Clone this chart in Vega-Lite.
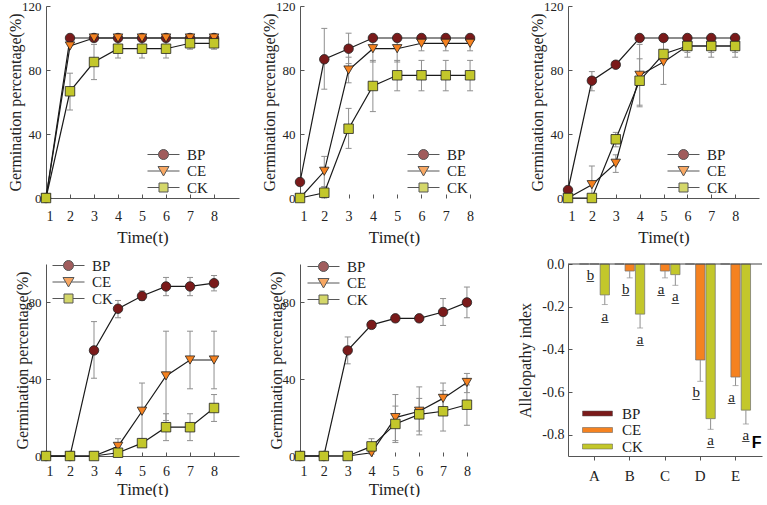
{
  "$schema": "https://vega.github.io/schema/vega-lite/v6.json",
  "padding": {"left": 7, "top": 0, "right": 0, "bottom": 0},
  "background": "white",
  "datasets": {
    "germ": [
      {"panel": "A", "g": "BP", "t": 1, "m": 0}, {"panel": "A", "g": "BP", "t": 2, "m": 100}, {"panel": "A", "g": "BP", "t": 3, "m": 100}, {"panel": "A", "g": "BP", "t": 4, "m": 100},
      {"panel": "A", "g": "BP", "t": 5, "m": 100}, {"panel": "A", "g": "BP", "t": 6, "m": 100}, {"panel": "A", "g": "BP", "t": 7, "m": 100}, {"panel": "A", "g": "BP", "t": 8, "m": 100},
      {"panel": "A", "g": "CE", "t": 1, "m": 0}, {"panel": "A", "g": "CE", "t": 2, "m": 95}, {"panel": "A", "g": "CE", "t": 3, "m": 100}, {"panel": "A", "g": "CE", "t": 4, "m": 100},
      {"panel": "A", "g": "CE", "t": 5, "m": 100}, {"panel": "A", "g": "CE", "t": 6, "m": 100}, {"panel": "A", "g": "CE", "t": 7, "m": 100}, {"panel": "A", "g": "CE", "t": 8, "m": 100},
      {"panel": "A", "g": "CK", "t": 1, "m": 0}, {"panel": "A", "g": "CK", "t": 2, "m": 66.7, "lo": 55, "hi": 78}, {"panel": "A", "g": "CK", "t": 3, "m": 85, "lo": 74, "hi": 96}, {"panel": "A", "g": "CK", "t": 4, "m": 93.3, "lo": 87.5, "hi": 99},
      {"panel": "A", "g": "CK", "t": 5, "m": 93.3, "lo": 87.5, "hi": 99}, {"panel": "A", "g": "CK", "t": 6, "m": 93.3, "lo": 87.5, "hi": 99}, {"panel": "A", "g": "CK", "t": 7, "m": 96.7, "lo": 93, "hi": 100}, {"panel": "A", "g": "CK", "t": 8, "m": 96.7, "lo": 93, "hi": 100},

      {"panel": "B", "g": "BP", "t": 1, "m": 10}, {"panel": "B", "g": "BP", "t": 2, "m": 86.7, "lo": 68, "hi": 106}, {"panel": "B", "g": "BP", "t": 3, "m": 93.3, "lo": 84, "hi": 103}, {"panel": "B", "g": "BP", "t": 4, "m": 100},
      {"panel": "B", "g": "BP", "t": 5, "m": 100}, {"panel": "B", "g": "BP", "t": 6, "m": 100}, {"panel": "B", "g": "BP", "t": 7, "m": 100}, {"panel": "B", "g": "BP", "t": 8, "m": 100},
      {"panel": "B", "g": "CE", "t": 1, "m": 0}, {"panel": "B", "g": "CE", "t": 2, "m": 16.7, "lo": 7, "hi": 26}, {"panel": "B", "g": "CE", "t": 3, "m": 80, "lo": 72, "hi": 88}, {"panel": "B", "g": "CE", "t": 4, "m": 93.3, "lo": 85, "hi": 100},
      {"panel": "B", "g": "CE", "t": 5, "m": 93.3, "lo": 85, "hi": 100}, {"panel": "B", "g": "CE", "t": 6, "m": 96.7, "lo": 92, "hi": 101}, {"panel": "B", "g": "CE", "t": 7, "m": 96.7, "lo": 92, "hi": 101}, {"panel": "B", "g": "CE", "t": 8, "m": 96.7, "lo": 92, "hi": 101},
      {"panel": "B", "g": "CK", "t": 1, "m": 0}, {"panel": "B", "g": "CK", "t": 2, "m": 3.3, "lo": 0, "hi": 7}, {"panel": "B", "g": "CK", "t": 3, "m": 43.3, "lo": 31, "hi": 56}, {"panel": "B", "g": "CK", "t": 4, "m": 70, "lo": 54, "hi": 86},
      {"panel": "B", "g": "CK", "t": 5, "m": 76.7, "lo": 67, "hi": 86}, {"panel": "B", "g": "CK", "t": 6, "m": 76.7, "lo": 67, "hi": 86}, {"panel": "B", "g": "CK", "t": 7, "m": 76.7, "lo": 67, "hi": 86}, {"panel": "B", "g": "CK", "t": 8, "m": 76.7, "lo": 67, "hi": 86},

      {"panel": "C", "g": "BP", "t": 1, "m": 5}, {"panel": "C", "g": "BP", "t": 2, "m": 73.3, "lo": 67, "hi": 79}, {"panel": "C", "g": "BP", "t": 3, "m": 83.3}, {"panel": "C", "g": "BP", "t": 4, "m": 100},
      {"panel": "C", "g": "BP", "t": 5, "m": 100}, {"panel": "C", "g": "BP", "t": 6, "m": 100}, {"panel": "C", "g": "BP", "t": 7, "m": 100}, {"panel": "C", "g": "BP", "t": 8, "m": 100},
      {"panel": "C", "g": "CE", "t": 1, "m": 0}, {"panel": "C", "g": "CE", "t": 2, "m": 8.3, "lo": 0, "hi": 20}, {"panel": "C", "g": "CE", "t": 3, "m": 21.7, "lo": 16, "hi": 27}, {"panel": "C", "g": "CE", "t": 4, "m": 76.7, "lo": 57, "hi": 96},
      {"panel": "C", "g": "CE", "t": 5, "m": 85, "lo": 71, "hi": 99}, {"panel": "C", "g": "CE", "t": 6, "m": 95, "lo": 88, "hi": 100}, {"panel": "C", "g": "CE", "t": 7, "m": 95, "lo": 88, "hi": 100}, {"panel": "C", "g": "CE", "t": 8, "m": 95, "lo": 88, "hi": 100},
      {"panel": "C", "g": "CK", "t": 1, "m": 0}, {"panel": "C", "g": "CK", "t": 2, "m": 0}, {"panel": "C", "g": "CK", "t": 3, "m": 36.7, "lo": 32, "hi": 41}, {"panel": "C", "g": "CK", "t": 4, "m": 73.3, "lo": 58, "hi": 87},
      {"panel": "C", "g": "CK", "t": 5, "m": 90}, {"panel": "C", "g": "CK", "t": 6, "m": 95, "lo": 91, "hi": 99}, {"panel": "C", "g": "CK", "t": 7, "m": 95, "lo": 91, "hi": 99}, {"panel": "C", "g": "CK", "t": 8, "m": 95, "lo": 91, "hi": 99},

      {"panel": "D", "g": "BP", "t": 1, "m": 0}, {"panel": "D", "g": "BP", "t": 2, "m": 0}, {"panel": "D", "g": "BP", "t": 3, "m": 55, "lo": 40.5, "hi": 70}, {"panel": "D", "g": "BP", "t": 4, "m": 76.7, "lo": 72, "hi": 81},
      {"panel": "D", "g": "BP", "t": 5, "m": 83.3, "lo": 81, "hi": 86}, {"panel": "D", "g": "BP", "t": 6, "m": 88.3, "lo": 83.5, "hi": 93}, {"panel": "D", "g": "BP", "t": 7, "m": 88.3, "lo": 83.5, "hi": 93}, {"panel": "D", "g": "BP", "t": 8, "m": 90, "lo": 86, "hi": 94},
      {"panel": "D", "g": "CE", "t": 1, "m": 0}, {"panel": "D", "g": "CE", "t": 2, "m": 0}, {"panel": "D", "g": "CE", "t": 3, "m": 0}, {"panel": "D", "g": "CE", "t": 4, "m": 5, "lo": 1, "hi": 9},
      {"panel": "D", "g": "CE", "t": 5, "m": 23.3, "lo": 9, "hi": 38}, {"panel": "D", "g": "CE", "t": 6, "m": 41.7, "lo": 18.5, "hi": 65}, {"panel": "D", "g": "CE", "t": 7, "m": 50, "lo": 35, "hi": 65}, {"panel": "D", "g": "CE", "t": 8, "m": 50, "lo": 35, "hi": 65},
      {"panel": "D", "g": "CK", "t": 1, "m": 0}, {"panel": "D", "g": "CK", "t": 2, "m": 0}, {"panel": "D", "g": "CK", "t": 3, "m": 0}, {"panel": "D", "g": "CK", "t": 4, "m": 1.7},
      {"panel": "D", "g": "CK", "t": 5, "m": 6.7, "lo": 5.5, "hi": 8}, {"panel": "D", "g": "CK", "t": 6, "m": 15, "lo": 8, "hi": 22}, {"panel": "D", "g": "CK", "t": 7, "m": 15, "lo": 8, "hi": 22}, {"panel": "D", "g": "CK", "t": 8, "m": 25, "lo": 18, "hi": 32},

      {"panel": "E", "g": "BP", "t": 1, "m": 0}, {"panel": "E", "g": "BP", "t": 2, "m": 0}, {"panel": "E", "g": "BP", "t": 3, "m": 55, "lo": 48, "hi": 62}, {"panel": "E", "g": "BP", "t": 4, "m": 68.3},
      {"panel": "E", "g": "BP", "t": 5, "m": 71.7, "lo": 70, "hi": 73}, {"panel": "E", "g": "BP", "t": 6, "m": 71.7, "lo": 70, "hi": 73}, {"panel": "E", "g": "BP", "t": 7, "m": 75, "lo": 68, "hi": 82}, {"panel": "E", "g": "BP", "t": 8, "m": 80, "lo": 72, "hi": 88},
      {"panel": "E", "g": "CE", "t": 1, "m": 0}, {"panel": "E", "g": "CE", "t": 2, "m": 0}, {"panel": "E", "g": "CE", "t": 3, "m": 0}, {"panel": "E", "g": "CE", "t": 4, "m": 1.7},
      {"panel": "E", "g": "CE", "t": 5, "m": 20, "lo": 8, "hi": 32}, {"panel": "E", "g": "CE", "t": 6, "m": 23.3, "lo": 11, "hi": 36}, {"panel": "E", "g": "CE", "t": 7, "m": 30, "lo": 22, "hi": 38}, {"panel": "E", "g": "CE", "t": 8, "m": 38.3, "lo": 33, "hi": 43},
      {"panel": "E", "g": "CK", "t": 1, "m": 0}, {"panel": "E", "g": "CK", "t": 2, "m": 0}, {"panel": "E", "g": "CK", "t": 3, "m": 0}, {"panel": "E", "g": "CK", "t": 4, "m": 5, "lo": 1, "hi": 9},
      {"panel": "E", "g": "CK", "t": 5, "m": 16.7, "lo": 7, "hi": 26}, {"panel": "E", "g": "CK", "t": 6, "m": 21.7, "lo": 13, "hi": 30}, {"panel": "E", "g": "CK", "t": 7, "m": 23.3, "lo": 13, "hi": 34}, {"panel": "E", "g": "CK", "t": 8, "m": 26.7, "lo": 16, "hi": 37}
    ],
    "alle": [
      {"cat": "A", "g": "BP", "v": 0}, {"cat": "A", "g": "CE", "v": 0, "err": 0, "sig": "b̲"}, {"cat": "A", "g": "CK", "v": -0.145, "err": -0.19, "sig": "a̲"},
      {"cat": "B", "g": "BP", "v": 0}, {"cat": "B", "g": "CE", "v": -0.033, "err": -0.065, "sig": "b̲"}, {"cat": "B", "g": "CK", "v": -0.235, "err": -0.3, "sig": "a̲"},
      {"cat": "C", "g": "BP", "v": 0}, {"cat": "C", "g": "CE", "v": -0.033, "err": -0.065, "sig": "a̲"}, {"cat": "C", "g": "CK", "v": -0.05, "err": -0.1, "sig": "a̲"},
      {"cat": "D", "g": "BP", "v": 0}, {"cat": "D", "g": "CE", "v": -0.45, "err": -0.55, "sig": "b̲"}, {"cat": "D", "g": "CK", "v": -0.725, "err": -0.775, "sig": "a̲"},
      {"cat": "E", "g": "BP", "v": 0}, {"cat": "E", "g": "CE", "v": -0.53, "err": -0.57, "sig": "a̲"}, {"cat": "E", "g": "CK", "v": -0.685, "err": -0.75, "sig": "a̲"}
    ]
  },
  "config": {
    "font": "Liberation Serif",
    "view": {"stroke": null},
    "axis": {
      "labelFont": "Liberation Serif", "titleFont": "Liberation Serif",
      "labelFontSize": 13, "titleFontSize": 16, "titleFontWeight": "normal",
      "labelColor": "#222", "titleColor": "#222",
      "domainColor": "#555", "tickColor": "#555", "domainWidth": 1, "tickWidth": 1,
      "tickSize": -4, "grid": false, "labelOverlap": false
    },
    "axisX": {"labelFontSize": 14, "titleFontSize": 17},
    "legend": {
      "orient": "none", "padding": 0, "labelFont": "Liberation Serif", "labelFontSize": 15,
      "labelColor": "#222", "rowPadding": 0.5, "labelOffset": 16, "symbolSize": 100,
      "symbolStrokeColor": "#111", "symbolStrokeWidth": 1
    }
  },
  "columns": 3,
  "spacing": {"row": 66, "column": 61},
  "bounds": "flush",
  "resolve": {"scale": {"x": "independent", "y": "independent", "color": "independent", "shape": "independent", "xOffset": "independent"}, "legend": {"color": "independent", "shape": "independent"}},
  "concat": [
    {
      "width": 193, "height": 192,
      "data": {"name": "germ"},
      "transform": [{"filter": "datum.panel === 'A'"}],
      "encoding": {"x": {"field": "t", "type": "quantitative", "scale": {"domain": [1, 9.04], "nice": false, "zero": false}, "axis": {"values": [1, 2, 3, 4, 5, 6, 7, 8], "title": "Time(t)", "labelPadding": 15, "titlePadding": 6, "labelOverlap": false}}},
      "layer": [
        {"transform": [{"filter": "datum.t > 100"}], "mark": {"type": "point", "filled": true},
         "encoding": {
           "y": {"field": "m", "type": "quantitative", "scale": {"domain": [0, 120], "nice": false}, "axis": {"values": [0, 20, 40, 60, 80, 100, 120], "title": "Germination percentage(%)", "labelPadding": 9, "titlePadding": -2, "labelOverlap": false}},
           "color": {"field": "g", "type": "nominal", "scale": {"domain": ["BP", "CE", "CK"], "range": ["#7a1a1a", "#f58220", "#c3c72b"]}, "legend": {"title": null, "legendX": 110, "legendY": 141}},
           "shape": {"field": "g", "type": "nominal", "scale": {"domain": ["BP", "CE", "CK"], "range": ["M-3.2,0H-1M1,0H3.2M1,0A1,1,0,1,1,-1,0A1,1,0,1,1,1,0Z", "M-3.2,0H-0.58M0.58,0H3.2M-1.1,-0.9H1.1L0,1Z", "M-3.2,0H-0.9M0.9,0H3.2M-0.9,-0.9H0.9V0.9H-0.9Z"]}, "legend": {"title": null, "legendX": 110, "legendY": 141}}
         }},
        {"transform": [{"filter": "isValid(datum.lo)"}], "mark": {"type": "rule", "color": "#8f8f8f", "strokeWidth": 1},
         "encoding": {"y": {"field": "lo", "type": "quantitative", "scale": {"domain": [0, 120], "nice": false}, "axis": {"values": [0, 20, 40, 60, 80, 100, 120], "title": "Germination percentage(%)", "labelPadding": 9, "titlePadding": -2, "labelOverlap": false}}, "y2": {"field": "hi"}}},
        {"transform": [{"filter": "isValid(datum.lo)"}], "mark": {"type": "point", "shape": "M-1,0H1", "size": 36, "filled": false, "opacity": 1, "stroke": "#8f8f8f", "strokeWidth": 1},
         "encoding": {"y": {"field": "lo", "type": "quantitative", "scale": {"domain": [0, 120], "nice": false}, "axis": {"values": [0, 20, 40, 60, 80, 100, 120], "title": "Germination percentage(%)", "labelPadding": 9, "titlePadding": -2, "labelOverlap": false}}}},
        {"transform": [{"filter": "isValid(datum.lo)"}], "mark": {"type": "point", "shape": "M-1,0H1", "size": 36, "filled": false, "opacity": 1, "stroke": "#8f8f8f", "strokeWidth": 1},
         "encoding": {"y": {"field": "hi", "type": "quantitative", "scale": {"domain": [0, 120], "nice": false}, "axis": {"values": [0, 20, 40, 60, 80, 100, 120], "title": "Germination percentage(%)", "labelPadding": 9, "titlePadding": -2, "labelOverlap": false}}}},
        {"mark": {"type": "line", "color": "#1a1a1a", "strokeWidth": 1.2},
         "encoding": {"y": {"field": "m", "type": "quantitative", "scale": {"domain": [0, 120], "nice": false}, "axis": {"values": [0, 20, 40, 60, 80, 100, 120], "title": "Germination percentage(%)", "labelPadding": 9, "titlePadding": -2, "labelOverlap": false}}, "detail": {"field": "g", "type": "nominal"}}},
        {"mark": {"type": "point", "filled": true, "size": 90, "opacity": 1, "stroke": "#222", "strokeWidth": 0.8},
         "encoding": {
           "y": {"field": "m", "type": "quantitative", "scale": {"domain": [0, 120], "nice": false}, "axis": {"values": [0, 20, 40, 60, 80, 100, 120], "title": "Germination percentage(%)", "labelPadding": 9, "titlePadding": -2, "labelOverlap": false}},
           "color": {"field": "g", "type": "nominal", "scale": {"domain": ["BP", "CE", "CK"], "range": ["#7a1a1a", "#f58220", "#c3c72b"]}, "legend": null},
           "shape": {"condition": [{"test": "datum.g === 'BP'", "value": "circle"}, {"test": "datum.g === 'CE'", "value": "triangle-down"}], "value": "square"}
         }},
        {"transform": [{"aggregate": [{"op": "count", "as": "n"}], "groupby": ["panel"]}], "mark": {"type": "text", "font": "Liberation Sans", "fontWeight": "bold", "fontSize": 16, "color": "#000"},
         "encoding": {"x": {"datum": 8.29}, "y": {"datum": 10}, "text": {"field": "panel", "type": "nominal"}}}
      ]
    },
    {
      "width": 207, "height": 192,
      "data": {"name": "germ"},
      "transform": [{"filter": "datum.panel === 'B'"}],
      "encoding": {"x": {"field": "t", "type": "quantitative", "scale": {"domain": [1, 9.52], "nice": false, "zero": false}, "axis": {"values": [1, 2, 3, 4, 5, 6, 7, 8], "title": "Time(t)", "labelPadding": 15, "titlePadding": 6, "domain": false, "titleX": 94, "labelOverlap": false}}},
      "layer": [
        {"transform": [{"filter": "datum.t > 100"}], "mark": {"type": "point", "filled": true},
         "encoding": {
           "y": {"field": "m", "type": "quantitative", "scale": {"domain": [0, 120], "nice": false}, "axis": {"values": [0, 20, 40, 60, 80, 100, 120], "title": "Germination percentage(%)", "labelPadding": 9, "titlePadding": -2, "labelOverlap": false}},
           "color": {"field": "g", "type": "nominal", "scale": {"domain": ["BP", "CE", "CK"], "range": ["#7a1a1a", "#f58220", "#c3c72b"]}, "legend": {"title": null, "legendX": 116, "legendY": 141}},
           "shape": {"field": "g", "type": "nominal", "scale": {"domain": ["BP", "CE", "CK"], "range": ["M-3.2,0H-1M1,0H3.2M1,0A1,1,0,1,1,-1,0A1,1,0,1,1,1,0Z", "M-3.2,0H-0.58M0.58,0H3.2M-1.1,-0.9H1.1L0,1Z", "M-3.2,0H-0.9M0.9,0H3.2M-0.9,-0.9H0.9V0.9H-0.9Z"]}, "legend": {"title": null, "legendX": 116, "legendY": 141}}
         }},
        {"transform": [{"aggregate": [{"op": "count", "as": "n"}], "groupby": ["panel"]}], "mark": {"type": "rule", "color": "#555", "strokeWidth": 1},
         "encoding": {"x": {"datum": 1}, "x2": {"datum": 8.94}, "y": {"datum": 0}}},
        {"transform": [{"filter": "isValid(datum.lo)"}], "mark": {"type": "rule", "color": "#8f8f8f", "strokeWidth": 1},
         "encoding": {"y": {"field": "lo", "type": "quantitative", "scale": {"domain": [0, 120], "nice": false}, "axis": {"values": [0, 20, 40, 60, 80, 100, 120], "title": "Germination percentage(%)", "labelPadding": 9, "titlePadding": -2, "labelOverlap": false}}, "y2": {"field": "hi"}}},
        {"transform": [{"filter": "isValid(datum.lo)"}], "mark": {"type": "point", "shape": "M-1,0H1", "size": 36, "filled": false, "opacity": 1, "stroke": "#8f8f8f", "strokeWidth": 1},
         "encoding": {"y": {"field": "lo", "type": "quantitative", "scale": {"domain": [0, 120], "nice": false}, "axis": {"values": [0, 20, 40, 60, 80, 100, 120], "title": "Germination percentage(%)", "labelPadding": 9, "titlePadding": -2, "labelOverlap": false}}}},
        {"transform": [{"filter": "isValid(datum.lo)"}], "mark": {"type": "point", "shape": "M-1,0H1", "size": 36, "filled": false, "opacity": 1, "stroke": "#8f8f8f", "strokeWidth": 1},
         "encoding": {"y": {"field": "hi", "type": "quantitative", "scale": {"domain": [0, 120], "nice": false}, "axis": {"values": [0, 20, 40, 60, 80, 100, 120], "title": "Germination percentage(%)", "labelPadding": 9, "titlePadding": -2, "labelOverlap": false}}}},
        {"mark": {"type": "line", "color": "#1a1a1a", "strokeWidth": 1.2},
         "encoding": {"y": {"field": "m", "type": "quantitative", "scale": {"domain": [0, 120], "nice": false}, "axis": {"values": [0, 20, 40, 60, 80, 100, 120], "title": "Germination percentage(%)", "labelPadding": 9, "titlePadding": -2, "labelOverlap": false}}, "detail": {"field": "g", "type": "nominal"}}},
        {"mark": {"type": "point", "filled": true, "size": 90, "opacity": 1, "stroke": "#222", "strokeWidth": 0.8},
         "encoding": {
           "y": {"field": "m", "type": "quantitative", "scale": {"domain": [0, 120], "nice": false}, "axis": {"values": [0, 20, 40, 60, 80, 100, 120], "title": "Germination percentage(%)", "labelPadding": 9, "titlePadding": -2, "labelOverlap": false}},
           "color": {"field": "g", "type": "nominal", "scale": {"domain": ["BP", "CE", "CK"], "range": ["#7a1a1a", "#f58220", "#c3c72b"]}, "legend": null},
           "shape": {"condition": [{"test": "datum.g === 'BP'", "value": "circle"}, {"test": "datum.g === 'CE'", "value": "triangle-down"}], "value": "square"}
         }},
        {"transform": [{"aggregate": [{"op": "count", "as": "n"}], "groupby": ["panel"]}], "mark": {"type": "text", "font": "Liberation Sans", "fontWeight": "bold", "fontSize": 16, "color": "#000"},
         "encoding": {"x": {"datum": 8.53}, "y": {"datum": 10}, "text": {"field": "panel", "type": "nominal"}}}
      ]
    },
    {
      "width": 191, "height": 192,
      "data": {"name": "germ"},
      "transform": [{"filter": "datum.panel === 'C'"}],
      "encoding": {"x": {"field": "t", "type": "quantitative", "scale": {"domain": [1, 9], "nice": false, "zero": false}, "axis": {"values": [1, 2, 3, 4, 5, 6, 7, 8], "title": "Time(t)", "labelPadding": 15, "titlePadding": 6, "labelOverlap": false}}},
      "layer": [
        {"transform": [{"filter": "datum.t > 100"}], "mark": {"type": "point", "filled": true},
         "encoding": {
           "y": {"field": "m", "type": "quantitative", "scale": {"domain": [0, 120], "nice": false}, "axis": {"values": [0, 20, 40, 60, 80, 100, 120], "title": "Germination percentage(%)", "labelPadding": 9, "titlePadding": -2, "labelOverlap": false}},
           "color": {"field": "g", "type": "nominal", "scale": {"domain": ["BP", "CE", "CK"], "range": ["#7a1a1a", "#f58220", "#c3c72b"]}, "legend": {"title": null, "legendX": 108, "legendY": 141}},
           "shape": {"field": "g", "type": "nominal", "scale": {"domain": ["BP", "CE", "CK"], "range": ["M-3.2,0H-1M1,0H3.2M1,0A1,1,0,1,1,-1,0A1,1,0,1,1,1,0Z", "M-3.2,0H-0.58M0.58,0H3.2M-1.1,-0.9H1.1L0,1Z", "M-3.2,0H-0.9M0.9,0H3.2M-0.9,-0.9H0.9V0.9H-0.9Z"]}, "legend": {"title": null, "legendX": 108, "legendY": 141}}
         }},
        {"transform": [{"filter": "isValid(datum.lo)"}], "mark": {"type": "rule", "color": "#8f8f8f", "strokeWidth": 1},
         "encoding": {"y": {"field": "lo", "type": "quantitative", "scale": {"domain": [0, 120], "nice": false}, "axis": {"values": [0, 20, 40, 60, 80, 100, 120], "title": "Germination percentage(%)", "labelPadding": 9, "titlePadding": -2, "labelOverlap": false}}, "y2": {"field": "hi"}}},
        {"transform": [{"filter": "isValid(datum.lo)"}], "mark": {"type": "point", "shape": "M-1,0H1", "size": 36, "filled": false, "opacity": 1, "stroke": "#8f8f8f", "strokeWidth": 1},
         "encoding": {"y": {"field": "lo", "type": "quantitative", "scale": {"domain": [0, 120], "nice": false}, "axis": {"values": [0, 20, 40, 60, 80, 100, 120], "title": "Germination percentage(%)", "labelPadding": 9, "titlePadding": -2, "labelOverlap": false}}}},
        {"transform": [{"filter": "isValid(datum.lo)"}], "mark": {"type": "point", "shape": "M-1,0H1", "size": 36, "filled": false, "opacity": 1, "stroke": "#8f8f8f", "strokeWidth": 1},
         "encoding": {"y": {"field": "hi", "type": "quantitative", "scale": {"domain": [0, 120], "nice": false}, "axis": {"values": [0, 20, 40, 60, 80, 100, 120], "title": "Germination percentage(%)", "labelPadding": 9, "titlePadding": -2, "labelOverlap": false}}}},
        {"mark": {"type": "line", "color": "#1a1a1a", "strokeWidth": 1.2},
         "encoding": {"y": {"field": "m", "type": "quantitative", "scale": {"domain": [0, 120], "nice": false}, "axis": {"values": [0, 20, 40, 60, 80, 100, 120], "title": "Germination percentage(%)", "labelPadding": 9, "titlePadding": -2, "labelOverlap": false}}, "detail": {"field": "g", "type": "nominal"}}},
        {"mark": {"type": "point", "filled": true, "size": 90, "opacity": 1, "stroke": "#222", "strokeWidth": 0.8},
         "encoding": {
           "y": {"field": "m", "type": "quantitative", "scale": {"domain": [0, 120], "nice": false}, "axis": {"values": [0, 20, 40, 60, 80, 100, 120], "title": "Germination percentage(%)", "labelPadding": 9, "titlePadding": -2, "labelOverlap": false}},
           "color": {"field": "g", "type": "nominal", "scale": {"domain": ["BP", "CE", "CK"], "range": ["#7a1a1a", "#f58220", "#c3c72b"]}, "legend": null},
           "shape": {"condition": [{"test": "datum.g === 'BP'", "value": "circle"}, {"test": "datum.g === 'CE'", "value": "triangle-down"}], "value": "square"}
         }},
        {"transform": [{"aggregate": [{"op": "count", "as": "n"}], "groupby": ["panel"]}], "mark": {"type": "text", "font": "Liberation Sans", "fontWeight": "bold", "fontSize": 16, "color": "#000"},
         "encoding": {"x": {"datum": 8.21}, "y": {"datum": 10}, "text": {"field": "panel", "type": "nominal"}}}
      ]
    },
    {
      "width": 193, "height": 192,
      "data": {"name": "germ"},
      "transform": [{"filter": "datum.panel === 'D'"}],
      "encoding": {"x": {"field": "t", "type": "quantitative", "scale": {"domain": [1, 9.04], "nice": false, "zero": false}, "axis": {"values": [1, 2, 3, 4, 5, 6, 7, 8], "title": "Time(t)", "labelPadding": 12, "titlePadding": 3, "labelOverlap": false}}},
      "layer": [
        {"transform": [{"filter": "datum.t > 100"}], "mark": {"type": "point", "filled": true},
         "encoding": {
           "y": {"field": "m", "type": "quantitative", "scale": {"domain": [0, 100], "nice": false}, "axis": {"values": [0, 20, 40, 60, 80, 100], "title": "Germination percentage(%)", "labelPadding": 9, "titlePadding": -2, "labelOverlap": false}},
           "color": {"field": "g", "type": "nominal", "scale": {"domain": ["BP", "CE", "CK"], "range": ["#7a1a1a", "#f58220", "#c3c72b"]}, "legend": {"title": null, "legendX": 15, "legendY": -6}},
           "shape": {"field": "g", "type": "nominal", "scale": {"domain": ["BP", "CE", "CK"], "range": ["M-3.2,0H-1M1,0H3.2M1,0A1,1,0,1,1,-1,0A1,1,0,1,1,1,0Z", "M-3.2,0H-0.58M0.58,0H3.2M-1.1,-0.9H1.1L0,1Z", "M-3.2,0H-0.9M0.9,0H3.2M-0.9,-0.9H0.9V0.9H-0.9Z"]}, "legend": {"title": null, "legendX": 15, "legendY": -6}}
         }},
        {"transform": [{"filter": "isValid(datum.lo)"}], "mark": {"type": "rule", "color": "#8f8f8f", "strokeWidth": 1},
         "encoding": {"y": {"field": "lo", "type": "quantitative", "scale": {"domain": [0, 100], "nice": false}, "axis": {"values": [0, 20, 40, 60, 80, 100], "title": "Germination percentage(%)", "labelPadding": 9, "titlePadding": -2, "labelOverlap": false}}, "y2": {"field": "hi"}}},
        {"transform": [{"filter": "isValid(datum.lo)"}], "mark": {"type": "point", "shape": "M-1,0H1", "size": 36, "filled": false, "opacity": 1, "stroke": "#8f8f8f", "strokeWidth": 1},
         "encoding": {"y": {"field": "lo", "type": "quantitative", "scale": {"domain": [0, 100], "nice": false}, "axis": {"values": [0, 20, 40, 60, 80, 100], "title": "Germination percentage(%)", "labelPadding": 9, "titlePadding": -2, "labelOverlap": false}}}},
        {"transform": [{"filter": "isValid(datum.lo)"}], "mark": {"type": "point", "shape": "M-1,0H1", "size": 36, "filled": false, "opacity": 1, "stroke": "#8f8f8f", "strokeWidth": 1},
         "encoding": {"y": {"field": "hi", "type": "quantitative", "scale": {"domain": [0, 100], "nice": false}, "axis": {"values": [0, 20, 40, 60, 80, 100], "title": "Germination percentage(%)", "labelPadding": 9, "titlePadding": -2, "labelOverlap": false}}}},
        {"mark": {"type": "line", "color": "#1a1a1a", "strokeWidth": 1.2},
         "encoding": {"y": {"field": "m", "type": "quantitative", "scale": {"domain": [0, 100], "nice": false}, "axis": {"values": [0, 20, 40, 60, 80, 100], "title": "Germination percentage(%)", "labelPadding": 9, "titlePadding": -2, "labelOverlap": false}}, "detail": {"field": "g", "type": "nominal"}}},
        {"mark": {"type": "point", "filled": true, "size": 90, "opacity": 1, "stroke": "#222", "strokeWidth": 0.8},
         "encoding": {
           "y": {"field": "m", "type": "quantitative", "scale": {"domain": [0, 100], "nice": false}, "axis": {"values": [0, 20, 40, 60, 80, 100], "title": "Germination percentage(%)", "labelPadding": 9, "titlePadding": -2, "labelOverlap": false}},
           "color": {"field": "g", "type": "nominal", "scale": {"domain": ["BP", "CE", "CK"], "range": ["#7a1a1a", "#f58220", "#c3c72b"]}, "legend": null},
           "shape": {"condition": [{"test": "datum.g === 'BP'", "value": "circle"}, {"test": "datum.g === 'CE'", "value": "triangle-down"}], "value": "square"}
         }},
        {"transform": [{"aggregate": [{"op": "count", "as": "n"}], "groupby": ["panel"]}], "mark": {"type": "text", "font": "Liberation Sans", "fontWeight": "bold", "fontSize": 16, "color": "#000"},
         "encoding": {"x": {"datum": 8.08}, "y": {"datum": 6.8}, "text": {"field": "panel", "type": "nominal"}}}
      ]
    },
    {
      "width": 207, "height": 192,
      "data": {"name": "germ"},
      "transform": [{"filter": "datum.panel === 'E'"}],
      "encoding": {"x": {"field": "t", "type": "quantitative", "scale": {"domain": [1, 9.68], "nice": false, "zero": false}, "axis": {"values": [1, 2, 3, 4, 5, 6, 7, 8], "title": "Time(t)", "labelPadding": 12, "titlePadding": 3, "domain": false, "titleX": 94, "labelOverlap": false}}},
      "layer": [
        {"transform": [{"filter": "datum.t > 100"}], "mark": {"type": "point", "filled": true},
         "encoding": {
           "y": {"field": "m", "type": "quantitative", "scale": {"domain": [0, 100], "nice": false}, "axis": {"values": [0, 20, 40, 60, 80, 100], "title": "Germination percentage(%)", "labelPadding": 9, "titlePadding": -2, "labelOverlap": false}},
           "color": {"field": "g", "type": "nominal", "scale": {"domain": ["BP", "CE", "CK"], "range": ["#7a1a1a", "#f58220", "#c3c72b"]}, "legend": {"title": null, "legendX": 16, "legendY": -5}},
           "shape": {"field": "g", "type": "nominal", "scale": {"domain": ["BP", "CE", "CK"], "range": ["M-3.2,0H-1M1,0H3.2M1,0A1,1,0,1,1,-1,0A1,1,0,1,1,1,0Z", "M-3.2,0H-0.58M0.58,0H3.2M-1.1,-0.9H1.1L0,1Z", "M-3.2,0H-0.9M0.9,0H3.2M-0.9,-0.9H0.9V0.9H-0.9Z"]}, "legend": {"title": null, "legendX": 16, "legendY": -5}}
         }},
        {"transform": [{"aggregate": [{"op": "count", "as": "n"}], "groupby": ["panel"]}], "mark": {"type": "rule", "color": "#555", "strokeWidth": 1},
         "encoding": {"x": {"datum": 1}, "x2": {"datum": 9.05}, "y": {"datum": 0}}},
        {"transform": [{"filter": "isValid(datum.lo)"}], "mark": {"type": "rule", "color": "#8f8f8f", "strokeWidth": 1},
         "encoding": {"y": {"field": "lo", "type": "quantitative", "scale": {"domain": [0, 100], "nice": false}, "axis": {"values": [0, 20, 40, 60, 80, 100], "title": "Germination percentage(%)", "labelPadding": 9, "titlePadding": -2, "labelOverlap": false}}, "y2": {"field": "hi"}}},
        {"transform": [{"filter": "isValid(datum.lo)"}], "mark": {"type": "point", "shape": "M-1,0H1", "size": 36, "filled": false, "opacity": 1, "stroke": "#8f8f8f", "strokeWidth": 1},
         "encoding": {"y": {"field": "lo", "type": "quantitative", "scale": {"domain": [0, 100], "nice": false}, "axis": {"values": [0, 20, 40, 60, 80, 100], "title": "Germination percentage(%)", "labelPadding": 9, "titlePadding": -2, "labelOverlap": false}}}},
        {"transform": [{"filter": "isValid(datum.lo)"}], "mark": {"type": "point", "shape": "M-1,0H1", "size": 36, "filled": false, "opacity": 1, "stroke": "#8f8f8f", "strokeWidth": 1},
         "encoding": {"y": {"field": "hi", "type": "quantitative", "scale": {"domain": [0, 100], "nice": false}, "axis": {"values": [0, 20, 40, 60, 80, 100], "title": "Germination percentage(%)", "labelPadding": 9, "titlePadding": -2, "labelOverlap": false}}}},
        {"mark": {"type": "line", "color": "#1a1a1a", "strokeWidth": 1.2},
         "encoding": {"y": {"field": "m", "type": "quantitative", "scale": {"domain": [0, 100], "nice": false}, "axis": {"values": [0, 20, 40, 60, 80, 100], "title": "Germination percentage(%)", "labelPadding": 9, "titlePadding": -2, "labelOverlap": false}}, "detail": {"field": "g", "type": "nominal"}}},
        {"mark": {"type": "point", "filled": true, "size": 90, "opacity": 1, "stroke": "#222", "strokeWidth": 0.8},
         "encoding": {
           "y": {"field": "m", "type": "quantitative", "scale": {"domain": [0, 100], "nice": false}, "axis": {"values": [0, 20, 40, 60, 80, 100], "title": "Germination percentage(%)", "labelPadding": 9, "titlePadding": -2, "labelOverlap": false}},
           "color": {"field": "g", "type": "nominal", "scale": {"domain": ["BP", "CE", "CK"], "range": ["#7a1a1a", "#f58220", "#c3c72b"]}, "legend": null},
           "shape": {"condition": [{"test": "datum.g === 'BP'", "value": "circle"}, {"test": "datum.g === 'CE'", "value": "triangle-down"}], "value": "square"}
         }},
        {"transform": [{"aggregate": [{"op": "count", "as": "n"}], "groupby": ["panel"]}], "mark": {"type": "text", "font": "Liberation Sans", "fontWeight": "bold", "fontSize": 16, "color": "#000"},
         "encoding": {"x": {"datum": 8.75}, "y": {"datum": 7.3}, "text": {"field": "panel", "type": "nominal"}}}
      ]
    },
    {
      "width": 194, "height": 192,
      "data": {"name": "alle"},
      "layer": [
        {"mark": {"type": "bar", "stroke": "#6e6e6e", "strokeWidth": 0.7},
         "encoding": {
           "x": {"field": "cat", "type": "nominal", "scale": {"paddingInner": 0.15, "paddingOuter": 0.325}, "axis": {"title": null, "labelAngle": 0, "tickSize": 4, "labelPadding": 8.5, "labelFontSize": 15}},
           "xOffset": {"field": "g", "type": "nominal", "scale": {"domain": ["BP", "CE", "CK"], "paddingInner": 0.1}},
           "y": {"field": "v", "type": "quantitative", "scale": {"domain": [-0.9, 0], "nice": false}, "axis": {"values": [0, -0.2, -0.4, -0.6, -0.8], "format": ".1f", "labelExpr": "replace(datum.label, '−', '-')", "title": "Allelopathy index", "labelPadding": 8, "titlePadding": 8, "labelFontSize": 14, "labelOverlap": false}},
           "color": {"field": "g", "type": "nominal", "scale": {"domain": ["BP", "CE", "CK"], "range": ["#7a1a1a", "#f58220", "#c3c72b"]},
             "legend": {"title": null, "legendX": 22, "legendY": 142, "labelOffset": 17, "symbolType": "M-3,-0.5H3V0.5H-3Z", "symbolStrokeColor": "#555", "symbolStrokeWidth": 0.5}}
         }},
        {"transform": [{"filter": "datum.err < datum.v"}], "mark": {"type": "rule", "color": "#8f8f8f", "strokeWidth": 1},
         "encoding": {
           "x": {"field": "cat", "type": "nominal"},
           "xOffset": {"field": "g", "type": "nominal"},
           "y": {"field": "v", "type": "quantitative", "scale": {"domain": [-0.9, 0], "nice": false}},
           "y2": {"field": "err"}
         }},
        {"transform": [{"filter": "datum.err < datum.v"}], "mark": {"type": "tick", "color": "#8f8f8f", "size": 6, "thickness": 1},
         "encoding": {
           "x": {"field": "cat", "type": "nominal"},
           "xOffset": {"field": "g", "type": "nominal"},
           "y": {"field": "err", "type": "quantitative", "scale": {"domain": [-0.9, 0], "nice": false}}
         }},
        {"transform": [{"filter": "datum.g === 'BP'"}, {"aggregate": [{"op": "count", "as": "n"}], "groupby": ["g"]}], "mark": {"type": "rule", "color": "#444", "strokeWidth": 1},
         "encoding": {"y": {"datum": 0}}},
        {"transform": [{"filter": "datum.g === 'CE'"}], "mark": {"type": "text", "baseline": "top", "dy": 4, "dx": -4, "fontSize": 15, "color": "#222", "font": "Liberation Serif"},
         "encoding": {
           "x": {"field": "cat", "type": "nominal"},
           "xOffset": {"field": "g", "type": "nominal"},
           "y": {"field": "err", "type": "quantitative", "scale": {"domain": [-0.9, 0], "nice": false}},
           "text": {"field": "sig", "type": "nominal"}
         }},
        {"transform": [{"filter": "datum.g === 'CK'"}], "mark": {"type": "text", "baseline": "top", "dy": 4, "fontSize": 15, "color": "#222", "font": "Liberation Serif"},
         "encoding": {
           "x": {"field": "cat", "type": "nominal"},
           "xOffset": {"field": "g", "type": "nominal"},
           "y": {"field": "err", "type": "quantitative", "scale": {"domain": [-0.9, 0], "nice": false}},
           "text": {"field": "sig", "type": "nominal"}
         }},
        {"transform": [{"filter": "datum.cat === 'E' && datum.g === 'CE'"}], "mark": {"type": "text", "text": "F", "dx": 21, "font": "Liberation Sans", "fontWeight": "bold", "fontSize": 16, "color": "#000"},
         "encoding": {
           "x": {"field": "cat", "type": "nominal"},
           "xOffset": {"field": "g", "type": "nominal"},
           "y": {"datum": -0.84}
         }}
      ]
    }
  ]
}
